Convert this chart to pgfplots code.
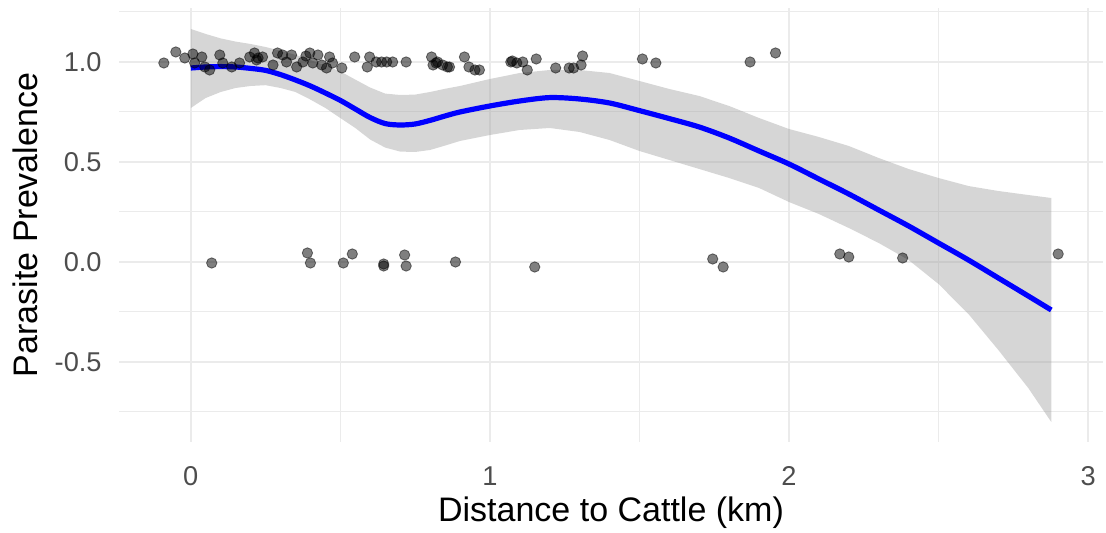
\documentclass[border=0pt]{standalone}
\usepackage{pgfplots}
\pgfplotsset{compat=1.18}
\usepackage{pgfplotstable}
\usepgfplotslibrary{fillbetween}
\usetikzlibrary{calc}
\usepackage{fontspec}
\setmainfont{Liberation Sans}
\definecolor{gridc}{HTML}{EBEBEB}
\definecolor{ticklab}{HTML}{4D4D4D}
\definecolor{ribc}{HTML}{999999}

\pgfplotstableread{
x fit lo up
0.00 0.970 0.770 1.165
0.05 0.975 0.820 1.140
0.10 0.977 0.850 1.118
0.15 0.975 0.870 1.102
0.20 0.968 0.880 1.090
0.25 0.958 0.884 1.075
0.30 0.937 0.870 1.056
0.35 0.910 0.850 1.036
0.40 0.880 0.812 1.010
0.45 0.845 0.770 0.982
0.50 0.808 0.720 0.953
0.55 0.765 0.670 0.912
0.60 0.722 0.612 0.872
0.65 0.692 0.572 0.842
0.70 0.685 0.552 0.835
0.75 0.690 0.550 0.837
0.80 0.708 0.560 0.850
0.85 0.730 0.582 0.866
0.90 0.750 0.605 0.880
1.00 0.780 0.635 0.915
1.10 0.805 0.660 0.945
1.20 0.822 0.670 0.960
1.30 0.815 0.650 0.960
1.40 0.795 0.610 0.945
1.50 0.757 0.555 0.905
1.60 0.717 0.510 0.865
1.70 0.675 0.465 0.830
1.80 0.620 0.420 0.780
1.90 0.555 0.370 0.720
2.00 0.490 0.300 0.665
2.10 0.415 0.240 0.625
2.20 0.340 0.170 0.580
2.30 0.260 0.095 0.520
2.40 0.180 0.010 0.465
2.50 0.095 -0.110 0.420
2.60 0.010 -0.260 0.380
2.70 -0.080 -0.440 0.355
2.80 -0.170 -0.630 0.335
2.877 -0.240 -0.800 0.320
}\smoothtab

\pgfplotstableread{
x y
-0.09 0.995
-0.05 1.05
-0.02 1.02
0.007 1.04
0.013 0.995
0.037 1.025
0.047 0.975
0.063 0.96
0.097 1.035
0.107 0.995
0.137 0.975
0.163 0.995
0.197 1.025
0.213 1.045
0.22 1.01
0.225 1.02
0.24 1.025
0.275 0.985
0.29 1.045
0.307 1.035
0.32 1.0
0.337 1.035
0.354 0.975
0.375 1.0
0.385 1.03
0.398 1.045
0.408 0.995
0.425 1.035
0.438 0.985
0.454 0.97
0.464 1.025
0.474 0.995
0.505 0.97
0.548 1.025
0.59 0.975
0.598 1.025
0.62 1.0
0.638 1.0
0.655 1.0
0.675 1.0
0.72 1.0
0.805 1.025
0.81 0.985
0.82 0.995
0.825 1.0
0.842 0.985
0.858 0.975
0.865 0.975
0.915 1.025
0.93 0.975
0.95 0.96
0.965 0.96
1.07 1.0
1.075 1.005
1.09 0.995
1.11 1.0
1.125 0.96
1.155 1.015
1.22 0.97
1.265 0.97
1.28 0.97
1.305 0.985
1.31 1.03
1.51 1.015
1.555 0.995
1.87 1.0
1.955 1.045
0.07 -0.005
0.39 0.045
0.40 -0.005
0.51 -0.005
0.54 0.04
0.645 -0.01
0.645 -0.02
0.715 0.035
0.72 -0.02
0.885 0.0
1.15 -0.025
1.745 0.015
1.78 -0.025
2.17 0.04
2.20 0.025
2.38 0.02
2.90 0.04
}\pointtab

\begin{document}
\begin{tikzpicture}
\begin{axis}[
  name=main,
  scale only axis,
  width=492pt, height=217pt,
  xmin=-0.24, xmax=3.05,
  ymin=-0.90, ymax=1.27,
  axis line style={draw=none},
  major tick length=0pt, minor tick length=0pt,
  xtick={0,1,2,3}, xticklabels={0,1,2,3},
  ytick={-0.5,0,0.5,1}, yticklabels={-0.5,0.0,0.5,1.0},
  minor xtick={0.5,1.5,2.5},
  minor ytick={-0.75,-0.25,0.25,0.75,1.25},
  grid=both,
  major grid style={draw=gridc, line width=1pt},
  minor grid style={draw=gridc, line width=0.5pt},
  ticklabel style={font=\fontsize{13.6}{16}\selectfont, text=ticklab, inner sep=0pt},
  xticklabel style={anchor=north, yshift=-12pt},
  yticklabel style={anchor=east, xshift=-8.5pt},
  xlabel={Distance to Cattle (km)},
  ylabel={Parasite Prevalence},
  label style={font=\fontsize{17}{20}\selectfont, inner sep=0pt},
  xlabel style={at={(axis description cs:0.5,0)}, anchor=base, yshift=-40pt},
  ylabel style={at={(axis description cs:0,0.5)}, anchor=base, yshift=40.5pt},
  clip=false,
]
\addplot[name path=U, draw=none, forget plot] table[x=x, y=up] {\smoothtab};
\addplot[name path=L, draw=none, forget plot] table[x=x, y=lo] {\smoothtab};
\addplot[fill=ribc, fill opacity=0.4, draw=none] fill between[of=U and L];
\addplot[only marks, black, mark=*, mark size=2.6pt, mark options={solid, fill=black, fill opacity=0.5, draw=black, draw opacity=0.5, line width=0.4pt}] table[x=x, y=y] {\pointtab};
\addplot[blue, line width=2.6pt, smooth] table[x=x, y=fit] {\smoothtab};
\end{axis}
\pgfresetboundingbox
\useasboundingbox ($(main.south west)+(-59.5pt,-45.5pt)$) rectangle ($(main.north east)+(1.5pt,4pt)$);
\end{tikzpicture}
\end{document}
